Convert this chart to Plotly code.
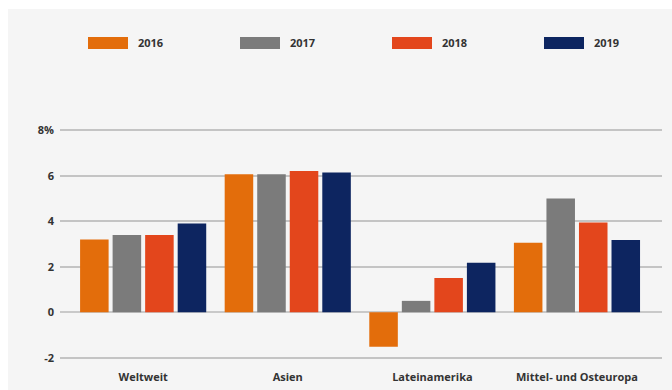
import plotly.graph_objects as go

categories = ["Weltweit", "Asien", "Lateinamerika", "Mittel- und Osteuropa"]
years = ["2016", "2017", "2018", "2019"]
values_2016 = [3.2, 6.07, -1.52, 3.05]
values_2017 = [3.4, 6.07, 0.5, 5.0]
values_2018 = [3.4, 6.21, 1.5, 3.95]
values_2019 = [3.9, 6.14, 2.18, 3.18]
series = [values_2016, values_2017, values_2018, values_2019]
colors = ["#e36d0b", "#7b7b7b", "#e3461c", "#0d2560"]

y_tickvals = [-2, 0, 2, 4, 6, 8]
y_ticktext = ["-2", "0", "2", "4", "6", "8%"]

W, H = 672, 390
ML, MR, MT, MB = 60, 10, 128, 30
PW, PH = W - ML - MR, H - MT - MB

def px_x(p):
    return (p - ML) / PW

def px_y(p):
    return (H - MB - p) / PH

font = dict(family="Open Sans, Noto Sans, sans-serif", size=11, color="#333333")

fig = go.Figure()
for yr, vals, col in zip(years, series, colors):
    fig.add_trace(go.Bar(x=categories, y=vals, name=yr, marker=dict(color=col, line=dict(width=0)),
                         showlegend=False))

shapes = []
annotations = []
# white border strips on the left and top of the light grey panel
shapes.append(dict(type="rect", xref="paper", yref="paper", x0=px_x(-5), x1=px_x(8),
                   y0=px_y(H + 5), y1=px_y(-5), fillcolor="white", line=dict(width=0), layer="below"))
shapes.append(dict(type="rect", xref="paper", yref="paper", x0=px_x(-5), x1=px_x(W + 5),
                   y0=px_y(9), y1=px_y(-5), fillcolor="white", line=dict(width=0), layer="below"))
legend_x = [88, 240, 392, 544]
for lx, yr, col in zip(legend_x, years, colors):
    shapes.append(dict(type="rect", xref="paper", yref="paper", x0=px_x(lx), x1=px_x(lx + 40),
                       y0=px_y(49), y1=px_y(37), fillcolor=col, line=dict(width=0)))
    annotations.append(dict(xref="paper", yref="paper", x=px_x(lx + 48), y=px_y(43), text="<b>" + yr + "</b>",
                            showarrow=False, xanchor="left", yanchor="middle", font=font))

fig.update_layout(
    width=W, height=H,
    margin=dict(l=ML, r=MR, t=MT, b=MB, pad=0, autoexpand=False),
    paper_bgcolor="#f5f5f5",
    plot_bgcolor="#f5f5f5",
    barmode="group",
    bargap=0.10,
    bargroupgap=0.123,
    font=font,
    shapes=shapes,
    annotations=annotations,
    showlegend=False,
)
fig.update_xaxes(range=[-0.575, 3.588], showgrid=False, zeroline=False, showline=False, automargin=False,
                 ticks="", tickfont=dict(size=11, color="#333333", weight="bold"), ticklabelstandoff=9)
fig.update_yaxes(range=[-2.1, 8.1], tickvals=y_tickvals, ticktext=y_ticktext, showgrid=True, automargin=False,
                 gridcolor="#c4c4c4", gridwidth=2, zeroline=True, zerolinecolor="#c9c9c9", zerolinewidth=2,
                 showline=False, ticks="", ticklabelstandoff=5,
                 tickfont=dict(size=11, color="#333333", weight="bold"))

fig.write_html("out.html")
